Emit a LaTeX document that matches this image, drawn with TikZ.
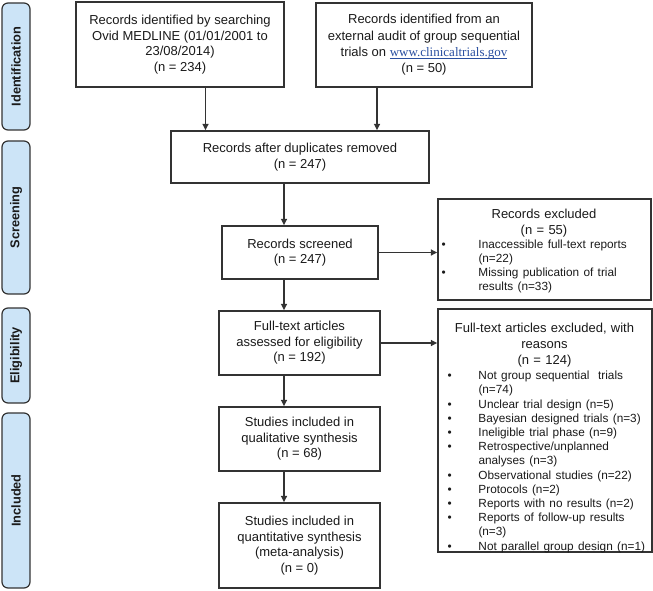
\documentclass[tikz,border=0pt]{standalone}
\usepackage{fontspec}
\setmainfont{Liberation Sans}
\newfontfamily\linkfont{Liberation Serif}
\usetikzlibrary{arrows.meta}
\definecolor{pillfill}{HTML}{CCE4F7}
\definecolor{linec}{HTML}{333333}
\definecolor{txtc}{HTML}{1A1A1A}
\definecolor{linkc}{HTML}{2A4FA0}
\newcommand\bitemA[1]{\noindent\llap{\makebox[37pt][l]{•}}#1\par}
\newcommand\bitemB[1]{\noindent\llap{\makebox[31pt][l]{•}}#1\par}
\newsavebox\ulinkbox
\newcommand\ulink[1]{\sbox\ulinkbox{#1}\rlap{\rule[-1.6pt]{\wd\ulinkbox}{0.6pt}}\usebox\ulinkbox}
\begin{document}
\begin{tikzpicture}[x=1pt,y=-1pt,
  box/.style={draw=linec, line width=1.4pt, fill=white, text=txtc, align=center, inner sep=2pt,
    font=\fontsize{13}{15.6}\selectfont},
  pill/.style={draw=linec, line width=1.2pt, fill=pillfill, rounded corners=6pt, rotate=90,
    font=\bfseries\fontsize{12.8}{15}\selectfont, text=txtc, inner sep=0pt},
  listtext/.style={anchor=north west, inner sep=0pt, text=txtc, font=\fontsize{13}{16}\selectfont},
  arr/.style={draw=linec, line width=1.5pt, -{Triangle[length=6.5pt,width=6pt]}},
]
\useasboundingbox (0,0) rectangle (653,591);

% phase labels
\node[pill, minimum width=127pt, minimum height=28pt] (p1) at (16,66.5) {Identification};
\node[pill, minimum width=153pt, minimum height=28pt] (p2) at (16,217.5) {Screening};
\node[pill, minimum width=95pt, minimum height=28pt] (p3) at (16,355.5) {Eligibility};
\node[pill, minimum width=175pt, minimum height=28pt] (p4) at (16,500.5) {Included};

% main boxes
\node[box, minimum width=208pt, minimum height=85pt] (b1) at (180,44.5)
  {Records identified by searching\\Ovid MEDLINE (01/01/2001 to\\23/08/2014)\\(n = 234)};
\node[box, minimum width=216pt, minimum height=84pt, font=\fontsize{13}{16.3}\selectfont] (b2) at (424,45)
  {Records identified from an\\external audit of group sequential\\trials on {\color{linkc}\linkfont\ulink{www.clinicaltrials.gov}}\\(n = 50)};
\node[box, minimum width=258pt, minimum height=52pt] (b3) at (300,157)
  {Records after duplicates removed\\(n = 247)};
\node[box, minimum width=156pt, minimum height=53pt] (b4) at (300,252.5)
  {Records screened\\(n = 247)};
\node[box, minimum width=161pt, minimum height=64pt] (b5) at (299.5,343)
  {Full-text articles\\assessed for eligibility\\(n = 192)};
\node[box, minimum width=161pt, minimum height=64pt] (b6) at (299.5,439)
  {Studies included in\\qualitative synthesis\\(n = 68)};
\node[box, minimum width=161pt, minimum height=85pt] (b7) at (299.5,545.5)
  {Studies included in\\quantitative synthesis\\(meta-analysis)\\(n = 0)};

% exclusion boxes
\node[box, minimum width=213pt, minimum height=101pt] (e1) at (544.5,249.5) {};
\node[listtext, text width=213pt] (e1t) at ([yshift=-10.5pt]e1.north west)
  {{\centering Records excluded\\(n = 55)\par}
   {\fontsize{11.8}{14}\selectfont\leftskip=41pt\rightskip=0pt plus 1fil\vspace{0.5pt}
    \bitemA{Inaccessible full-text reports\\(n=22)}
    \bitemA{Missing publication of trial\\results (n=33)}}};

\node[box, minimum width=214pt, minimum height=243pt] (e2) at (545,430.5) {};
\node[listtext, text width=214pt] (e2t) at ([yshift=-15pt]e2.north west)
  {{\centering Full-text articles excluded, with\\reasons\\(n = 124)\par}
   {\fontsize{11.8}{14.2}\selectfont\leftskip=41pt\rightskip=0pt plus 1fil\vspace{0.5pt}
    \bitemB{Not group sequential~ trials\\(n=74)}
    \bitemB{Unclear trial design (n=5)}
    \bitemB{Bayesian designed trials (n=3)}
    \bitemB{Ineligible trial phase (n=9)}
    \bitemB{Retrospective/unplanned\\analyses (n=3)}
    \bitemB{Observational studies (n=22)}
    \bitemB{Protocols (n=2)}
    \bitemB{Reports with no results (n=2)}
    \bitemB{Reports of follow-up results\\(n=3)}
    \bitemB{Not parallel group design (n=1)}}};

% connectors
\draw[arr] ([xshift=25.5pt]b1.south) -- ([xshift=25.5pt]b1.south |- b3.north);
\draw[arr] ([xshift=-47pt]b2.south) -- ([xshift=-47pt]b2.south |- b3.north);
\draw[arr] ([xshift=-16pt]b3.south) -- ([xshift=-16pt]b3.south |- b4.north);
\draw[arr] ([xshift=-16pt]b4.south) -- ([xshift=-16pt]b4.south |- b5.north);
\draw[arr] ([xshift=-15.5pt]b5.south) -- ([xshift=-15.5pt]b5.south |- b6.north);
\draw[arr] ([xshift=-15.5pt]b6.south) -- ([xshift=-15.5pt]b6.south |- b7.north);
\draw[arr] (b4.east) -- (b4.east -| e1.west);
\draw[arr] (b5.east) -- (b5.east -| e2.west);
\end{tikzpicture}
\end{document}
